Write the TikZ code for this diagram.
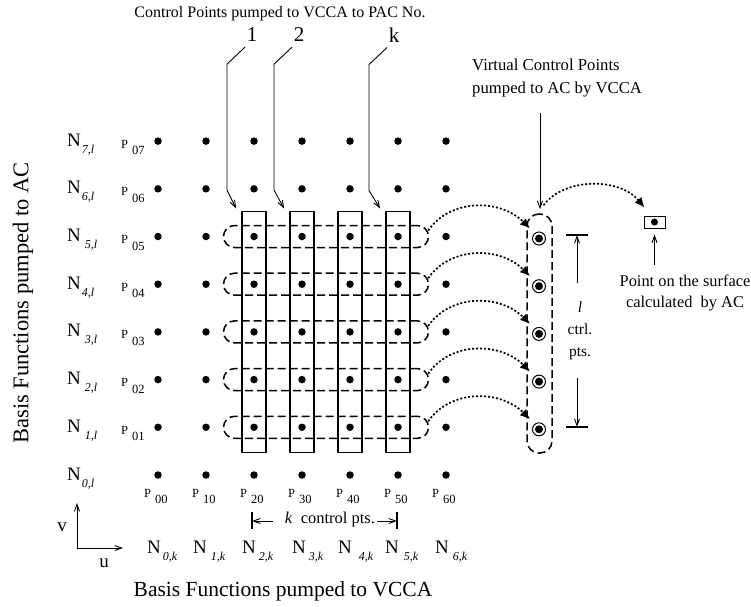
\documentclass[tikz,border=0pt]{standalone}
\usepackage{fontspec}
\setmainfont{Liberation Serif}
\usetikzlibrary{arrows.meta,calc}
\newcommand{\sz}[2]{\fontsize{#1}{#2}\selectfont}
\newcommand{\Nsub}[3]{N\hspace{#1}\raisebox{-7pt}{\sz{12}{12}\itshape #2,#3}}

\begin{document}
\begin{tikzpicture}[x=1pt, y=-1pt,
  dot/.style={circle, fill, inner sep=0pt, minimum size=7.5pt},
  vdot/.style={circle, draw, line width=1pt, inner sep=0pt, minimum size=13pt,
    path picture={\fill (path picture bounding box.center) circle (4pt);}},
  colbox/.style={draw, line width=1.8pt, minimum width=24pt, minimum height=241pt, inner sep=0pt},
  rowbox/.style={draw, dash pattern=on 8pt off 4pt, line width=1.5pt, rounded corners=11pt,
    minimum width=205pt, minimum height=22pt, inner sep=0pt},
  vbox/.style={draw, dash pattern=on 8pt off 4pt, line width=1.5pt, rounded corners=12pt,
    minimum width=25pt, minimum height=239pt, inner sep=0pt},
  flow/.style={line width=1.7pt, dash pattern=on 2pt off 2pt, -{Latex[length=10pt,width=9pt]}},
  lead/.style={line width=0.9pt, -{Straight Barb[length=7pt,width=5pt]}},
  bar/.style={line width=1.8pt},
  txt/.style={inner sep=0pt}
]
  \useasboundingbox (0,0) rectangle (751,606);

  % Control point grid
  \foreach \j in {0,...,7}
    \foreach \i in {0,...,6}
      \node[dot] (p\i\j) at ({158+48*\i},{475-47.7*\j}) {};

  % Rows sent to VCCA (dashed) and columns (solid)
  \foreach \j in {1,...,5}
    \node[rowbox] (r\j) at ($(p2\j)!0.5!(p5\j)$) {};
  \foreach \i in {2,...,5}
    \node[colbox] (c\i) at ($(p\i1)!0.5!(p\i5)$) {};

  % Labels of the grid
  \foreach \j in {1,...,7}
    \node[txt, anchor=base west, font=\sz{12.5}{14}] (pl0\j) at (121,{475-47.7*\j+7})
      {P\hspace{4pt}\raisebox{-6.5pt}{0\j}};
  \foreach \i in {0,...,6}
    \node[txt, anchor=base west, font=\sz{12.5}{14}] (pl\i0) at ({144+48*\i},497)
      {P\hspace{4pt}\raisebox{-6pt}{\i0}};
  \foreach \j/\g in {0/1pt,1/4pt,2/4pt,3/4pt,4/1pt,5/4pt,6/1pt,7/1pt}
    \node[txt, anchor=base west, font=\sz{19}{21}] (nl\j) at (67,{475-47.7*\j+5}) {\Nsub{\g}{\j}{l}};
  \foreach \i/\x/\g in {0/147/2pt,1/193/4pt,2/242/3pt,3/292/3pt,4/338/7pt,5/385/5pt,6/435/4pt}
    \node[txt, anchor=base west, font=\sz{19}{21}] (nk\i) at (\x,553) {\Nsub{\g}{\i}{k}};

  % PAC numbers
  \node[font=\sz{16}{18}] (cpt) at (280,14) {Control Points pumped to VCCA to PAC No.};
  \foreach \t/\c/\x in {1/2/252, 2/3/299, k/5/394} {
    \node[txt, font=\sz{21}{23}] (lab\c) at (\x,35) {\t};
    \draw[lead] ([shift={(-7,5)}]lab\c.south) -- ++(-18,17) -- ++(0,126)
      -- ([shift={(-5,-2)}]c\c.north west);
  }

  % Virtual control points
  \node[vbox] (vb) at (539.5,333.5) {};
  \foreach \j in {1,...,5}
    \node[vdot] (v\j) at (539,{477-47.7*\j}) {};
  \foreach \j in {1,...,5}
    \draw[flow] ([shift={(-1,-6)}]r\j.east) .. controls +(22,-32) and +(-30,-30)
      .. ([shift={(-9,-10)}]v\j.center);
  \node[txt, anchor=west, align=left, font=\sz{16.7}{23}] (vtxt) at (472,78.5)
    {Virtual Control Points\\pumped to AC by VCCA};
  \coordinate (vstart) at (540,113);
  \draw[lead] (vstart) -- ([shift={(0.5,-4)}]vb.north);

  % Point on the surface
  \node[draw, line width=0.9pt, minimum width=21pt, minimum height=12pt, inner sep=0pt] (pt) at (654.5,222) {};
  \node[dot, minimum size=7pt] (ptdot) at (654.5,222) {};
  \draw[flow] ([shift={(4,-8)}]vb.north) .. controls +(21,-28) and +(-25,-30)
    .. ([shift={(1,-8)}]pt.north west);
  \node[txt, align=center, font=\sz{16.4}{21}] (surf) at (685,292.5)
    {Point on the surface\\calculated\ \ by AC};
  \coordinate (sstart) at (654.5,265);
  \draw[lead] (sstart) -- ([shift={(0,6)}]pt.south);

  % l ctrl. pts.
  \coordinate (ltop) at (577,235);
  \coordinate (lbot) at (577,427);
  \draw[bar] ([shift={(-11,0)}]ltop) -- ([shift={(11,0)}]ltop);
  \draw[bar] ([shift={(-11,0)}]lbot) -- ([shift={(11,0)}]lbot);
  \node[txt, align=center, font=\sz{15.5}{22}] (lctrl) at (580,331) {\textit{l}\\ctrl.\\pts.};
  \draw[lead] ([shift={(-3,-19)}]lctrl.north) -- (ltop);
  \draw[lead] ([shift={(-3,18)}]lctrl.south) -- (lbot);

  % k control pts.
  \coordinate (kl) at (252,521);
  \coordinate (kr) at (397,521);
  \draw[bar] ([shift={(0,-9)}]kl) -- ([shift={(0,8)}]kl);
  \draw[bar] ([shift={(0,-9)}]kr) -- ([shift={(0,8)}]kr);
  \node[txt, font=\sz{16.5}{18}] (kpts) at (330,520) {\textit{k}\ \ control pts.};
  \draw[lead] ([shift={(-12,1)}]kpts.west) -- (kl);
  \draw[lead] ([shift={(2,1)}]kpts.east) -- (kr);

  % u, v axes
  \coordinate (ax) at (77,548);
  \coordinate (axv) at (77,503);
  \coordinate (axu) at (123,548);
  \draw[lead] (ax) -- (axv);
  \draw[lead] (ax) -- (axu);
  \node[font=\sz{19}{21}] (lv) at (62,527) {v};
  \node[font=\sz{19}{21}] (lu) at (104,563) {u};

  % Axis titles
  \node[rotate=90, font=\sz{22.5}{25}] (bfa) at (23,303) {Basis Functions pumped to AC};
  \node[font=\sz{21.5}{24}] (bfv) at (283,591) {Basis Functions pumped to VCCA};
\end{tikzpicture}
\end{document}
